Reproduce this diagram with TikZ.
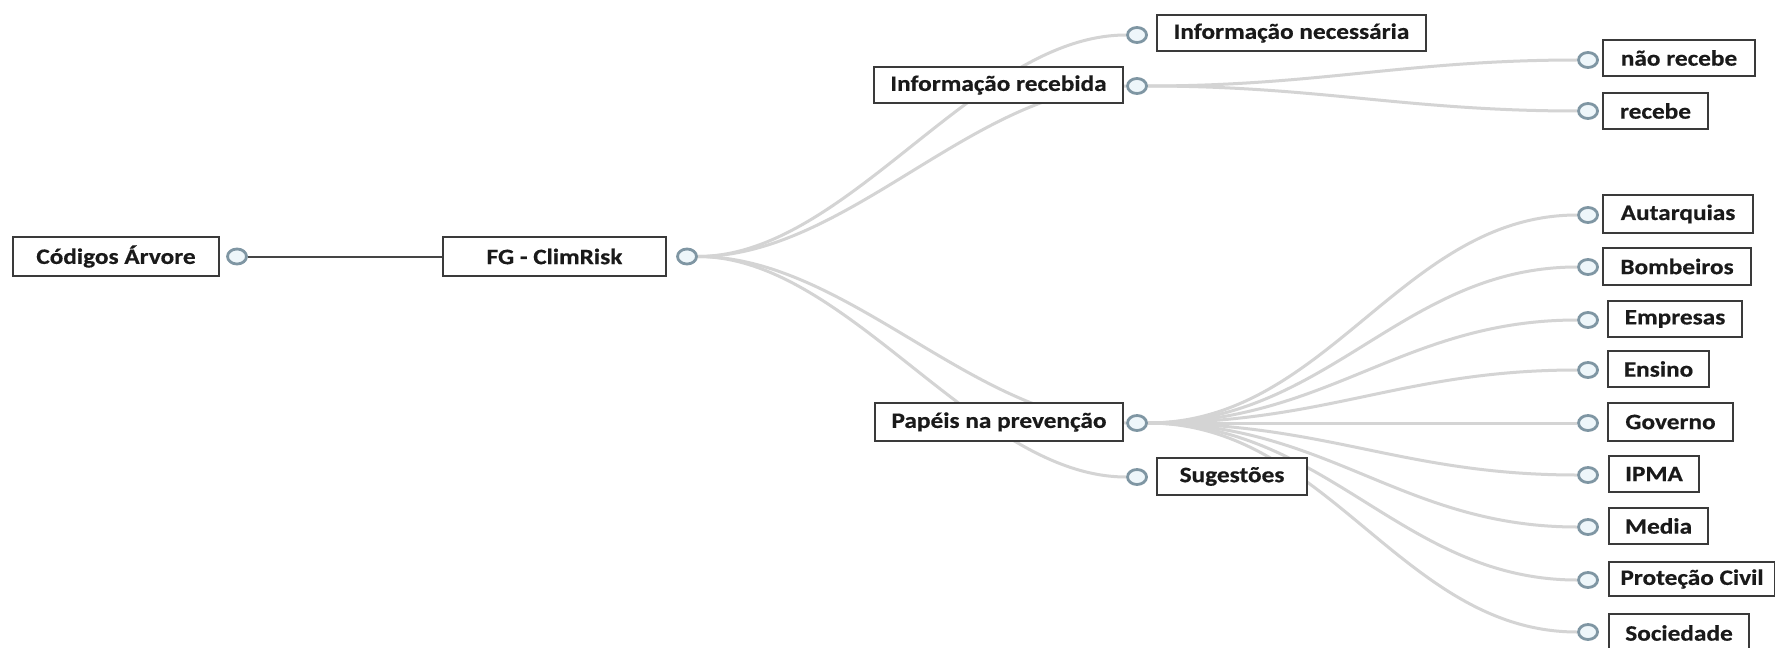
\documentclass[tikz,border=0pt]{standalone}
\usepackage{fontspec}
\newfontfamily\boxfont{Carlito}[FakeStretch=1.15, BoldFeatures={FakeBold=0.5}]
\usetikzlibrary{shapes.geometric}
\definecolor{boxc}{HTML}{3A3A3A}
\definecolor{textc}{HTML}{1A1A1A}
\definecolor{portc}{HTML}{7F96A3}
\definecolor{portf}{HTML}{EEF6FA}
\definecolor{curvec}{HTML}{D4D4D4}
\definecolor{mainc}{HTML}{454545}
\pgfdeclarelayer{bg}
\pgfsetlayers{bg,main}
\tikzset{
  box/.style={draw=boxc, line width=1pt, fill=white, inner sep=0pt,
    minimum height=18pt, align=center, text=textc,
    font=\boxfont\bfseries\fontsize{11}{13}\selectfont},
  port/.style={ellipse, draw=portc, fill=portf, line width=1.4pt,
    minimum width=9.5pt, minimum height=7.5pt, inner sep=0pt},
  curve/.style={draw=curvec, line width=1.5pt},
  mainline/.style={draw=mainc, line width=1pt}
}
\begin{document}
\begin{tikzpicture}[x=0.5pt, y=-0.5pt]
\useasboundingbox (0,0) rectangle (1775,647);
% boxes
\node[box, minimum width=103pt, minimum height=19.5pt] (cod) at (116,256.5) {Códigos Árvore};
\node[box, minimum width=111.5pt, minimum height=19.5pt] (fg) at (554.5,256.5) {FG - ClimRisk};
\node[box, minimum width=124.5pt] (ir) at (998.5,85) {Informação recebida};
\node[box, minimum width=134.5pt] (inf) at (1291.5,33) {Informação necessária};
\node[box, minimum width=124pt, minimum height=19pt] (pp) at (999,422) {Papéis na prevenção};
\node[box, minimum width=75pt, minimum height=18.5pt] (sg) at (1232,476.5) {Sugestões};
\node[box, minimum width=76pt] (nr) at (1679,58) {não recebe};
\node[box, minimum width=52.5pt] (rc) at (1655.5,111) {recebe};
\node[box, minimum width=75pt, minimum height=19pt] (au) at (1678,214) {Autarquias};
\node[box, minimum width=74pt, minimum height=18.5pt] (bo) at (1677,266.5) {Bombeiros};
\node[box, minimum width=67pt] (em) at (1675,319) {Empresas};
\node[box, minimum width=50.5pt] (en) at (1658.5,369) {Ensino};
\node[box, minimum width=62.5pt, minimum height=19pt] (go) at (1670.5,422) {Governo};
\node[box, minimum width=45pt] (ip) at (1654,474) {IPMA};
\node[box, minimum width=49.5pt] (me) at (1658.5,526) {Media};
\node[box, minimum width=83pt, minimum height=17pt] (pc) at (1692,579) {Proteção Civil};
\node[box, minimum width=70pt, minimum height=19pt] (so) at (1679,633) {Sociedade};
% ports
\node[port] (codc) at (237,256.5) {};
\node[port] (fgc) at (687,256.5) {};
\node[port] (irc) at (1137,86) {};
\node[port] (infc) at (1137,35) {};
\node[port] (ppc) at (1137,423) {};
\node[port] (sgc) at (1137,477) {};
\node[port] (nrc) at (1588,60) {};
\node[port] (rcc) at (1588,111) {};
\node[port] (auc) at (1588,215) {};
\node[port] (boc) at (1588,267) {};
\node[port] (emc) at (1588,320) {};
\node[port] (enc) at (1588,370) {};
\node[port] (goc) at (1588,423) {};
\node[port] (ipc) at (1588,475) {};
\node[port] (mec) at (1588,527) {};
\node[port] (pcc) at (1588,580) {};
\node[port] (soc) at (1588,632) {};
% connectors
\begin{pgfonlayer}{bg}
\fill[white] (0,0) rectangle (1775,647);
\draw[mainline] (codc.east) -- (fg.west);
\foreach \t in {infc,irc,ppc,sgc}
  \draw[curve] (fgc.east) .. controls +(150,0) and +(-150,0) .. (\t.west);
\foreach \t in {nrc,rcc}
  \draw[curve] (irc.east) .. controls +(170,0) and +(-170,0) .. (\t.west);
\foreach \t in {auc,boc,emc,enc,goc,ipc,mec,pcc,soc}
  \draw[curve] (ppc.east) .. controls +(180,0) and +(-175,0) .. (\t.west);
\end{pgfonlayer}
\end{tikzpicture}
\end{document}
